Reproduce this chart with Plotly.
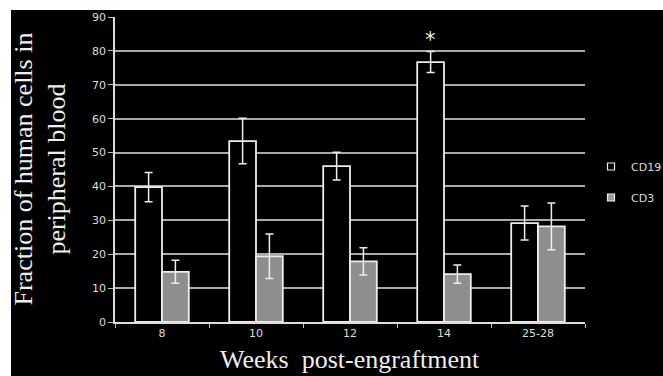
import plotly.graph_objects as go

weeks = ["8", "10", "12", "14", "25-28"]
cd19 = [39.8, 53.4, 46.0, 76.7, 29.2]
cd19_err = [4.3, 6.7, 4.1, 3.1, 5.0]
cd3 = [14.8, 19.4, 17.9, 14.1, 28.2]
cd3_err = [3.4, 6.6, 4.0, 2.7, 6.9]
y_ticks = [0, 10, 20, 30, 40, 50, 60, 70, 80, 90]

W, H = 663, 376
L, R, T, B = 115, 78, 17, 54
pw, ph = W - L - R, H - T - B

def px_x(p):
    return (p - L) / pw

def px_y(p):
    return (H - B - p) / ph

fig = go.Figure()
err_style = dict(type="data", visible=True, color="#eeeeee", thickness=1.5, width=4)
fig.add_trace(go.Bar(x=weeks, y=cd19, name="CD19", showlegend=False,
                     marker=dict(color="#000000", line=dict(color="#eeeeee", width=1.8)),
                     error_y=dict(array=cd19_err, **err_style)))
fig.add_trace(go.Bar(x=weeks, y=cd3, name="CD3", showlegend=False,
                     marker=dict(color="#8e8e8e", line=dict(color="#eeeeee", width=1.8)),
                     error_y=dict(array=cd3_err, **err_style)))
# legend entries
fig.add_trace(go.Scatter(x=[None], y=[None], mode="markers", name="CD19", legendgroup="a",
                         marker=dict(symbol="square", size=7, color="#000000",
                                     line=dict(color="#eeeeee", width=1.2))))
fig.add_trace(go.Scatter(x=[None], y=[None], mode="markers", name="CD3", legendgroup="b",
                         marker=dict(symbol="square", size=7, color="#9a9a9a",
                                     line=dict(color="#eeeeee", width=1.2))))

# significance asterisk above week 14 CD19 bar
sig_idx = weeks.index("14")
fig.add_annotation(x=sig_idx, y=cd19[sig_idx] + cd19_err[sig_idx] - 0.8, xref="x", yref="y",
                   text="*", showarrow=False, xshift=-13.5, yanchor="bottom",
                   font=dict(family="DejaVu Sans", size=21, color="#eeeeee"))

# axis titles
serif = "Liberation Serif"
fig.add_annotation(x=px_x(40), y=0.5, xref="paper", yref="paper",
                   text="Fraction of human cells in<br>peripheral blood", textangle=-90,
                   showarrow=False, xanchor="center", yanchor="middle",
                   font=dict(family=serif, size=26, color="#eeeeee"))
fig.add_annotation(x=0.5, y=px_y(359), xref="paper", yref="paper",
                   text="Weeks  post-engraftment", showarrow=False,
                   xanchor="center", yanchor="middle",
                   font=dict(family=serif, size=26, color="#eeeeee"))

# black panel (white strips top/left as in reference)
fig.add_shape(type="rect", xref="paper", yref="paper", layer="below",
              x0=px_x(11), x1=px_x(W + 2), y0=px_y(H + 2), y1=px_y(10),
              fillcolor="#000000", line=dict(width=0))

fig.update_layout(
    width=W, height=H,
    margin=dict(l=L, r=R, t=T, b=B, pad=0, autoexpand=False),
    paper_bgcolor="#ffffff", plot_bgcolor="rgba(0,0,0,0)",
    barmode="group", bargap=0.43, bargroupgap=0,
    font=dict(family="DejaVu Sans", size=11, color="#dddddd"),
    legend=dict(x=1.0 + (591 - (L + pw)) / pw, y=px_y(152), xanchor="left", yanchor="top",
                bgcolor="rgba(0,0,0,0)", tracegroupgap=12, itemwidth=30,
                font=dict(family="DejaVu Sans", size=11, color="#dddddd")),
    xaxis=dict(type="category", range=[-0.5, len(weeks) - 0.5], showgrid=False,
               showline=True, linecolor="#dddddd",
               linewidth=1.5, ticks="outside", tickson="boundaries", ticklen=4,
               tickcolor="#bbbbbb", tickangle=0,
               tickfont=dict(family="DejaVu Sans", size=11, color="#dddddd")),
    yaxis=dict(range=[0, 90], tickvals=y_ticks, showgrid=True, gridcolor="#aaaaaa",
               gridwidth=1.5, showline=True, linecolor="#dddddd", linewidth=1.5,
               ticks="outside", ticklen=5, tickcolor="#bbbbbb", zeroline=False,
               tickfont=dict(family="DejaVu Sans", size=11, color="#dddddd")),
)

fig.write_html("out.html")
